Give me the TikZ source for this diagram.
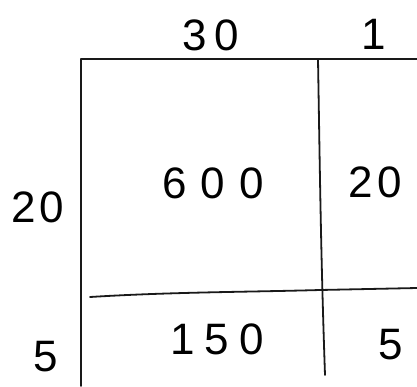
\documentclass[tikz,border=0pt]{standalone}
\usepackage{fontspec}
\setmainfont{Liberation Sans}
\newcommand\dgap[1]{\hspace{#1pt}}
\begin{document}
\begin{tikzpicture}[x=1pt,y=-1pt,
  num/.style={font=\fontsize{44}{44}\selectfont, inner sep=0pt, anchor=base},
  pen/.style={line width=1.8pt, line cap=round, line join=round, black!90}]
\useasboundingbox (0,0) rectangle (417,386);
% grid lines
\draw[pen] (81,386) -- (81,59) -- (417,59);
\draw[pen] (318,59) .. controls (320,180) and (321,260) .. (325,375);
\draw[pen] (90,297) .. controls (170,292) and (250,292) .. (320,290) -- (417,288);
% labels
\node[num] (c30) at (211,50) {3\dgap{8}0};
\node[num] (c1) at (374,49) {1};
\node[num] (r20) at (38,222) {2\dgap{4}0};
\node[num] (r5) at (46,371) {5};
\node[num] (a600) at (213,198) {6\dgap{14}0\dgap{14}0};
\node[num] (a20) at (375,197) {2\dgap{5}0};
\node[num] (a150) at (217,354) {1\dgap{10}5\dgap{10}0};
\node[num] (a5) at (391,359) {5};
\end{tikzpicture}
\end{document}
